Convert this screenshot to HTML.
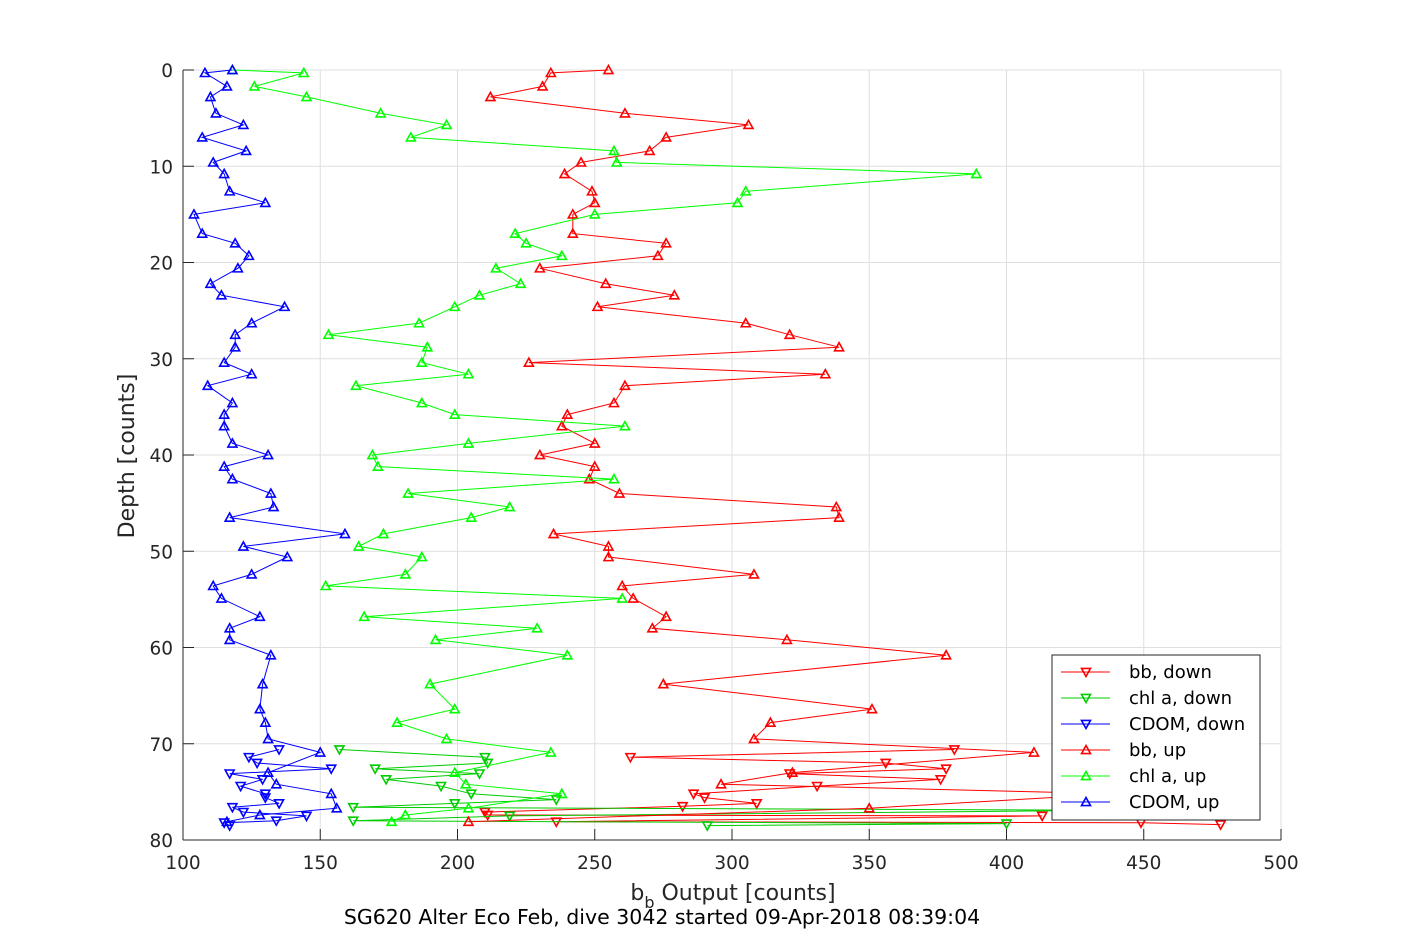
<!DOCTYPE html>
<html><head><meta charset="utf-8">
<style>
html,body{margin:0;padding:0;background:#fff;}
svg{display:block;font-family:"DejaVu Sans","Liberation Sans",sans-serif;}
</style></head>
<body>
<svg id="chart" width="1417" height="945" viewBox="0 0 1417 945">
  <rect x="0" y="0" width="1417" height="945" fill="#fff"/>
  <rect x="183" y="70" width="1098" height="770" fill="#fff"/>
  <g id="grid"></g>
  <g id="series"></g>
  <g id="axes"></g>
  <text x="134" y="456" font-size="22" fill="#262626" text-anchor="middle" transform="rotate(-90 134 456)">Depth [counts]</text>
  <text x="733" y="900" font-size="22" fill="#262626" text-anchor="middle">b<tspan font-size="16" dy="8">b</tspan><tspan dy="-8"> Output [counts]</tspan></text>
  <text x="662" y="924" font-size="20.5" fill="#000" text-anchor="middle">SG620 Alter Eco Feb, dive 3042 started 09-Apr-2018 08:39:04</text>
  <g id="legend"></g>
</svg>
<script>
const xTicks = [100,150,200,250,300,350,400,450,500];
const yTicks = [0,10,20,30,40,50,60,70,80];

const bbUpDepth = [0,0.3,1.7,2.8,4.5,5.7,7,8.4,9.6,10.8,12.6,13.8,15,17,18,19.3,20.6,22.2,23.4,24.6,26.3,27.5,28.8,30.4,31.6,32.8,34.6,35.8,37,38.8,40,41.2,42.5,44,45.4,46.5,48.2,49.5,50.6,52.4,53.6,54.9,56.8,58,59.2,60.8,63.8,66.4,67.8,69.5,70.9,73.0,74.2,75.2,76.7,78.1];
const bbUpVal = [255,234,231,212,261,306,276,270,245,239,249,250,242,242,276,273,230,254,279,251,305,321,339,226,334,261,257,240,238,250,230,250,248,259,338,339,235,255,255,308,260,264,276,271,320,378,275,351,314,308,410,322,296,440,350,204];

const chlUpDepth = [0,0.3,1.7,2.8,4.5,5.7,7,8.4,9.6,10.8,12.6,13.8,15,17,18,19.3,20.6,22.2,23.4,24.6,26.3,27.5,28.8,30.4,31.6,32.8,34.6,35.8,37,38.8,40,41.2,42.5,44,45.4,46.5,48.2,49.5,50.6,52.4,53.6,54.9,56.8,58,59.2,60.8,63.8,66.4,67.8,69.5,70.9,73.0,74.2,75.2,76.7,77.4,78.1];
const chlUpVal = [118,144,126,145,172,196,183,257,258,389,305,302,250,221,225,238,214,223,208,199,186,153,189,187,204,163,187,199,261,204,169,171,257,182,219,205,173,164,187,181,152,260,166,229,192,240,190,199,178,196,234,199,203,238,204,181,176];

const cdomUpDepth = [0,0.3,1.7,2.8,4.5,5.7,7,8.4,9.6,10.8,12.6,13.8,15,17,18,19.3,20.6,22.2,23.4,24.6,26.3,27.5,28.8,30.4,31.6,32.8,34.6,35.8,37,38.8,40,41.2,42.5,44,45.4,46.5,48.2,49.5,50.6,52.4,53.6,54.9,56.8,58,59.2,60.8,63.8,66.4,67.8,69.5,70.9,73.0,74.2,75.2,76.7,77.4,78.1];
const cdomUpVal = [118,108,116,110,112,122,107,123,111,115,117,130,104,107,119,124,120,110,114,137,125,119,119,115,125,109,118,115,115,118,131,115,118,132,133,117,159,122,138,125,111,114,128,117,117,132,129,128,130,131,150,131,134,154,156,128,116];

const bbDownDepth = [70.6,71.4,72.0,72.6,73.1,73.7,74.4,75.2,75.6,76.2,76.5,77.1,77.4,77.5,78.1,78.2,78.4];
const bbDownVal = [381,263,356,378,321,376,331,286,290,309,282,210,211,413,236,449,478];

const chlDownDepth = [70.6,71.4,72.0,72.6,73.1,73.7,74.4,75.2,75.8,76.2,76.6,76.9,77.5,78.0,78.3,78.5];
const chlDownVal = [157,210,211,170,208,174,194,205,236,199,162,440,219,162,400,291];

const cdomDownDepth = [70.6,71.4,72.0,72.6,73.1,73.7,74.4,75.2,75.6,76.2,76.6,77.1,77.5,78.0,78.2,78.5];
const cdomDownVal = [135,124,127,154,117,129,121,130,130,135,118,122,145,134,115,117];

const NS = "http://www.w3.org/2000/svg";
const L = 183, R = 1281, T = 70, B = 840;
function xs(v){ return L + (v - 100) / 400 * (R - L); }
function ys(d){ return T + d / 80 * (B - T); }
function mk(tag, attrs, parent){
  const e = document.createElementNS(NS, tag);
  for (const k in attrs) e.setAttribute(k, attrs[k]);
  parent.appendChild(e);
  return e;
}
const grid = document.getElementById('grid');
const axes = document.getElementById('axes');
const series = document.getElementById('series');
const legend = document.getElementById('legend');

xTicks.forEach(t => {
  const x = xs(t);
  const g = mk('line', {x1:x, x2:x, y1:T, y2:B, stroke:'#dfdfdf', 'stroke-width':1}, grid);
  
  
  const tk = mk('line', {x1:x, x2:x, y1:B, y2:B-11, stroke:'#262626', 'stroke-width':1}, axes);
  
  
  const lb = mk('text', {x:x, y:B+29, 'font-size':18.5, fill:'#262626', 'text-anchor':'middle'}, axes);
  lb.textContent = t;
  
  
});
yTicks.forEach(t => {
  const y = ys(t);
  const g = mk('line', {x1:L, x2:R, y1:y, y2:y, stroke:'#dfdfdf', 'stroke-width':1}, grid);
  
  
  const tk = mk('line', {x1:L, x2:L+11, y1:y, y2:y, stroke:'#262626', 'stroke-width':1}, axes);
  
  
  const lb = mk('text', {x:L-10, y:y+7, 'font-size':18.5, fill:'#262626', 'text-anchor':'end'}, axes);
  lb.textContent = t;
  
  
});
const ax1 = mk('line', {x1:L, x2:L, y1:T, y2:B, stroke:'#262626', 'stroke-width':1}, axes);


const ax2 = mk('line', {x1:L, x2:R, y1:B, y2:B, stroke:'#262626', 'stroke-width':1}, axes);



function tri(cx, cy, up, color, parent){
  const s = 4.5;
  const pts = up ? [[cx,cy-s],[cx-s,cy+s*0.8],[cx+s,cy+s*0.8]] : [[cx,cy+s],[cx-s,cy-s*0.8],[cx+s,cy-s*0.8]];
  return mk('polygon', {points: pts.map(p => p.join(',')).join(' '), fill:'none', stroke:color, 'stroke-width':1.6}, parent);
}
function drawSeries(name, depths, vals, color, up){
  const g = mk('g', {}, series);
  
  
  const pts = depths.map((d,i) => xs(vals[i]).toFixed(1) + ',' + ys(d).toFixed(1)).join(' ');
  const pl = mk('polyline', {points:pts, fill:'none', stroke:color, 'stroke-width':1}, g);
  
  
  depths.forEach((d,i) => {
    const m = tri(xs(vals[i]), ys(d), up, color, g);
    
    
  });
}
drawSeries('bb-down', bbDownDepth, bbDownVal, '#ff0000', false);
drawSeries('chl-a-down', chlDownDepth, chlDownVal, '#00cc00', false);
drawSeries('cdom-down', cdomDownDepth, cdomDownVal, '#0000ff', false);
drawSeries('bb-up', bbUpDepth, bbUpVal, '#ff0000', true);
drawSeries('chl-a-up', chlUpDepth, chlUpVal, '#00ff00', true);
drawSeries('cdom-up', cdomUpDepth, cdomUpVal, '#0000ff', true);

const box = mk('rect', {x:1052, y:655, width:208, height:165, fill:'#fff', stroke:'#262626', 'stroke-width':1}, legend);


const legLabels = ['bb, down','chl a, down','CDOM, down','bb, up','chl a, up','CDOM, up'];
const legColors = ['#ff0000','#00cc00','#0000ff','#ff0000','#00ff00','#0000ff'];
const legUp = [false,false,false,true,true,true];
legLabels.forEach((lab,i) => {
  const y = 672 + i*26;
  const g = mk('g', {}, legend);
  
  
  mk('line', {x1:1061, x2:1110, y1:y, y2:y, stroke:legColors[i], 'stroke-width':1}, g);
  tri(1086, y, legUp[i], legColors[i], g);
  const t = mk('text', {x:1129, y:y+6, 'font-size':18, fill:'#000'}, g);
  t.textContent = lab;
});
</script>
</body></html>
